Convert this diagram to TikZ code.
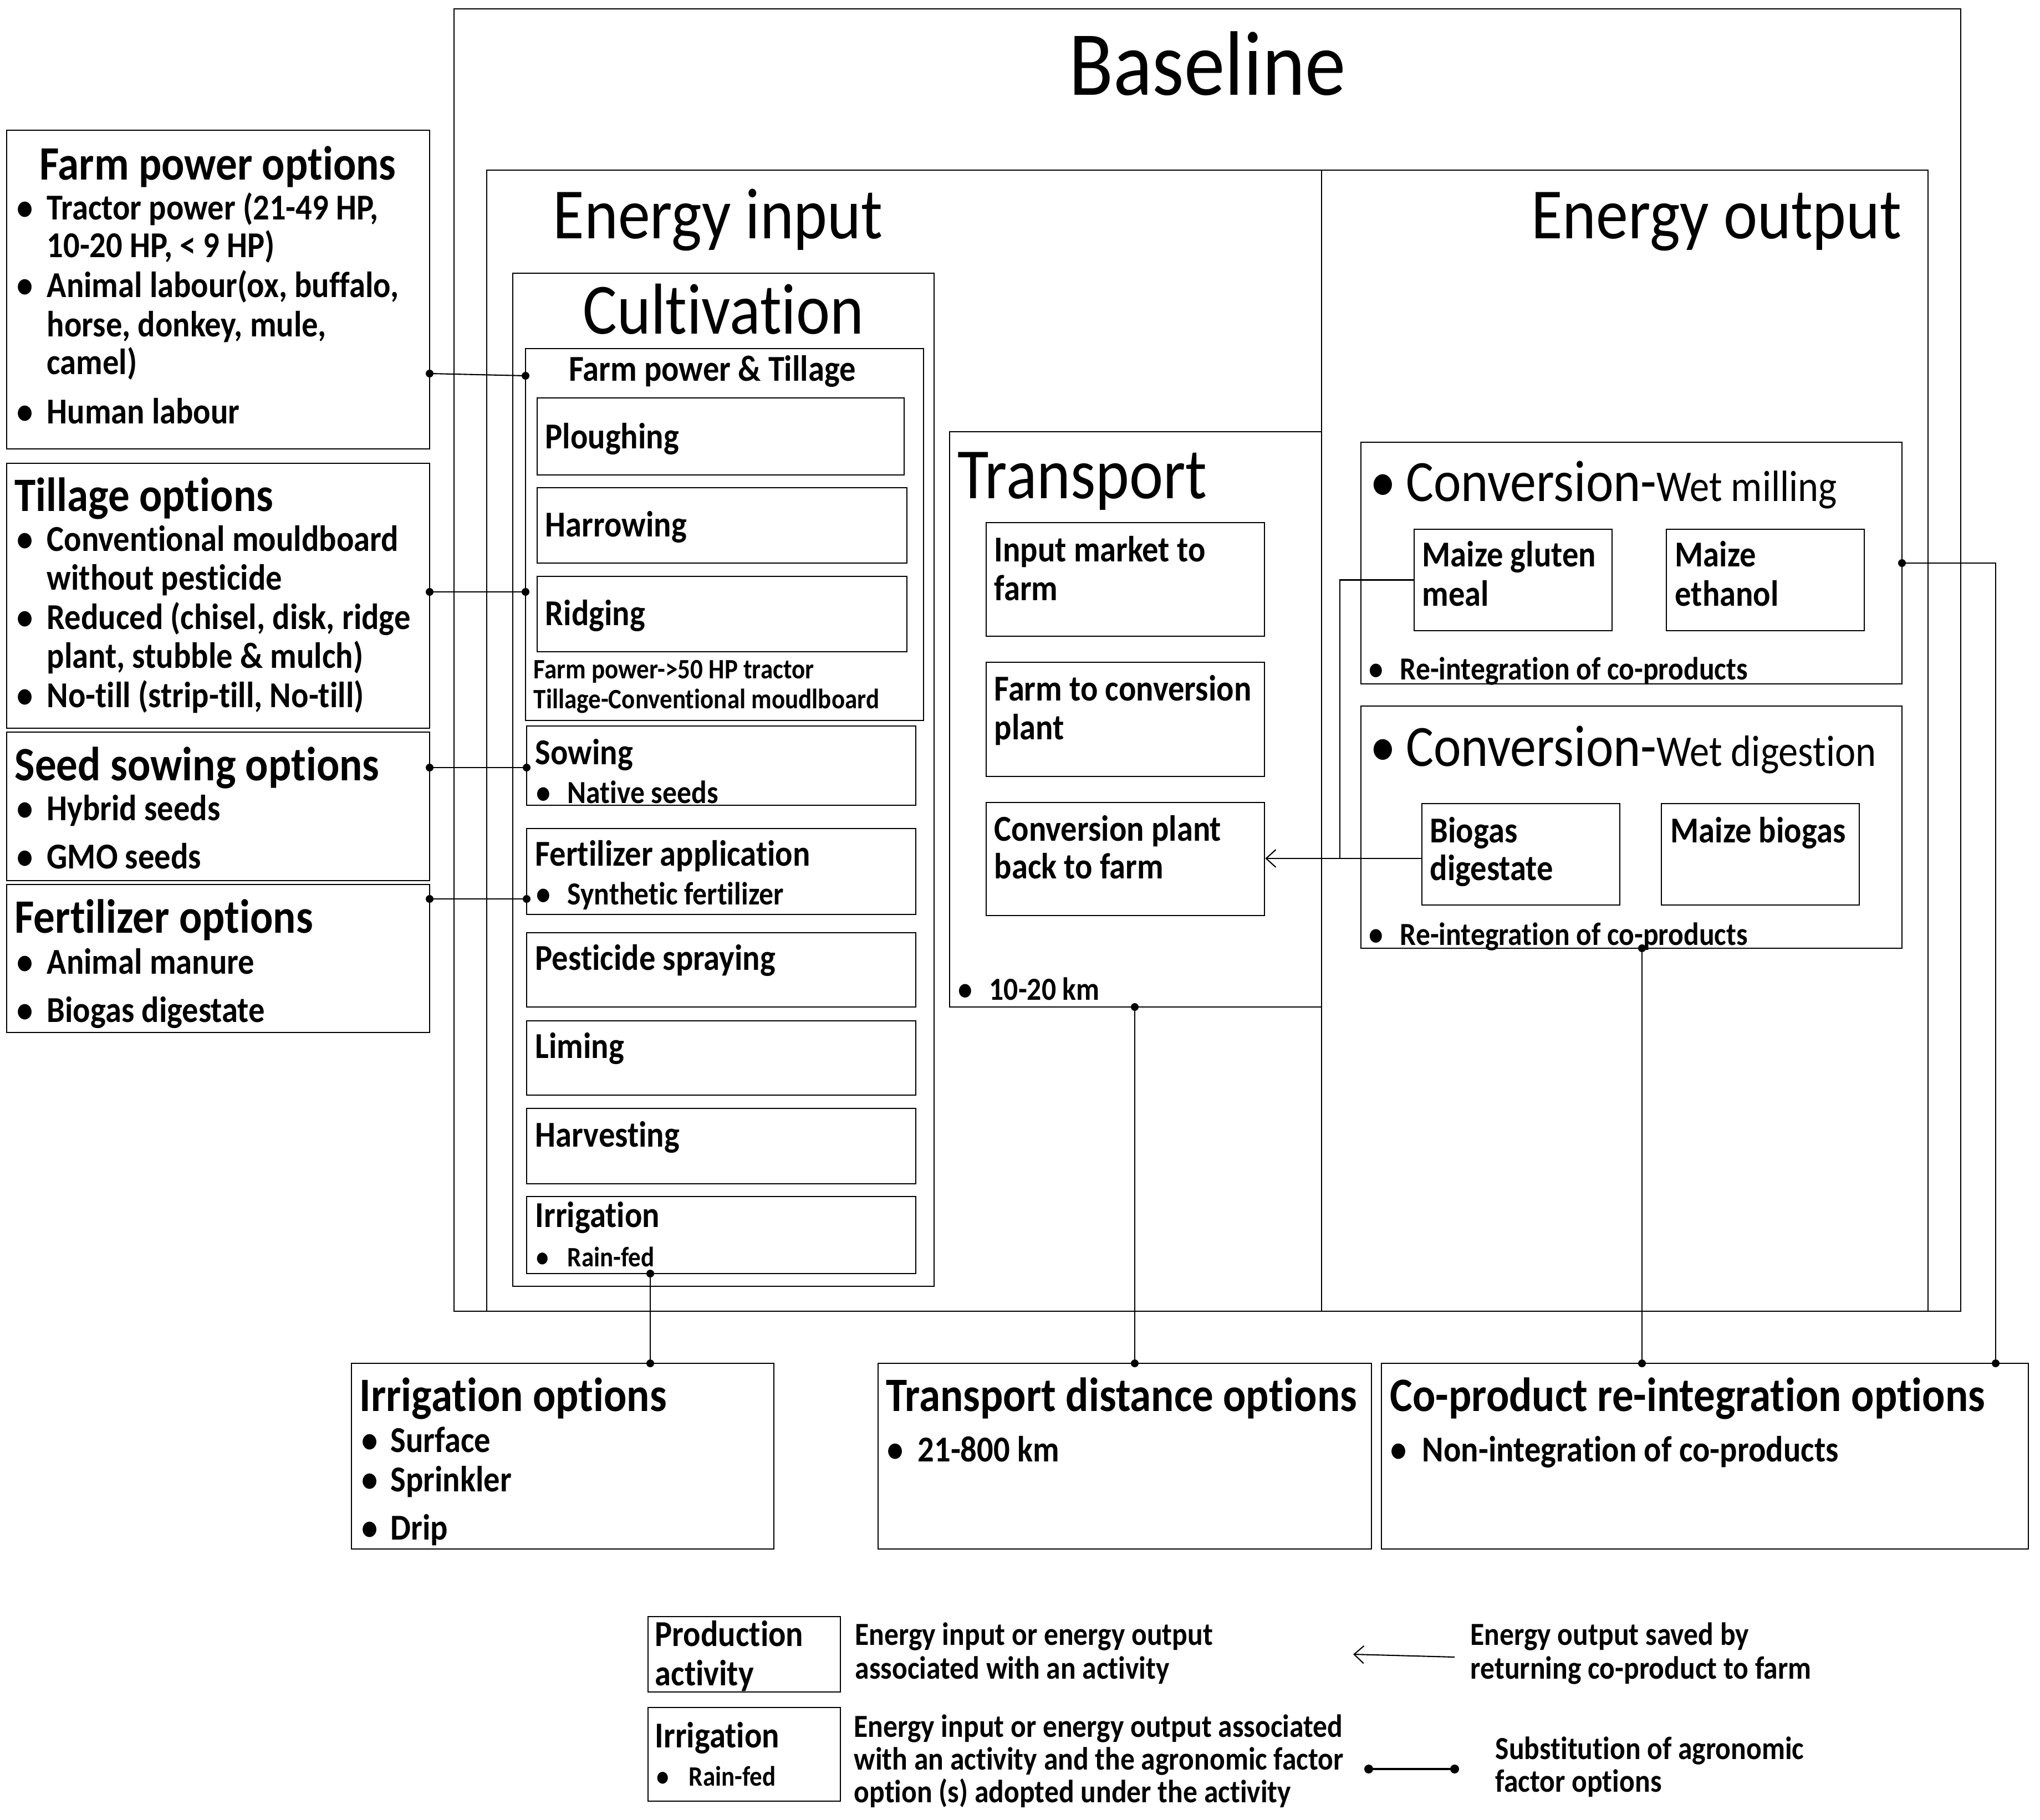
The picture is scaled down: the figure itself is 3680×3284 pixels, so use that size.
\documentclass[tikz,border=0pt]{standalone}
\usepackage{fontspec}
\setmainfont{Carlito}[FakeStretch=0.89, Ligatures=NoCommon]
\usetikzlibrary{fit,arrows.meta}
\newcommand\Bx[5]{\node[bx, fit={(#2,#3) (#4,#5)}] (#1) {};}
\begin{document}
\begin{tikzpicture}[x=0.01cm,y=-0.01cm,
 bx/.style={draw, line width=0.75pt, inner sep=0pt},
 fT/.style={font=\fontsize{47}{50}\selectfont, inner sep=0pt, anchor=base},
 fS/.style={font=\fontsize{37}{40}\selectfont, inner sep=0pt, anchor=base west},
 fO/.style={font=\fontsize{24.6}{27}\selectfont\bfseries, inner sep=0pt, anchor=mid west, yshift=-5.6pt},
 fB/.style={font=\fontsize{18.7}{20}\selectfont\bfseries, inner sep=0pt, anchor=mid west, yshift=-3.4pt},
 fM/.style={font=\fontsize{16.5}{18}\selectfont\bfseries, inner sep=0pt, anchor=mid west, yshift=-3.4pt},
 fX/.style={font=\fontsize{14.4}{16}\selectfont\bfseries, inner sep=0pt, anchor=mid west, yshift=-2.8pt},
 cn/.style={line width=0.6pt},
 arr/.style={line width=0.6pt, -{Straight Barb[length=5pt,width=9pt]}},
]
\useasboundingbox (0,0) rectangle (3680,3284);
% ---------- main frames ----------
\Bx{base}{819}{16}{3537}{2366}
\Bx{energy}{878}{307}{3478}{2366}
\draw[line width=0.75pt] (2384,307) -- (2384,2366);
\node[fT] (tBase) at (2178,171) {Baseline};
\node[fS] (tEin) at (997,430) {Energy input};
\node[fS, anchor=base east] (tEout) at (3431,430) {Energy output};
% ---------- cultivation ----------
\Bx{cult}{925}{493}{1685}{2321}
\node[fS, anchor=base] (tCult) at (1305,602) {Cultivation};
\Bx{fpt}{948}{629}{1666}{1300}
\node[fB, anchor=mid] (tFpt) at (1285,667) {Farm power \& Tillage};
\Bx{plo}{969}{718}{1631}{857}
\node[fB] (tPlo) at (983,789) {Ploughing};
\Bx{har}{969}{880}{1636}{1016}
\node[fB] (tHar) at (983,948) {Harrowing};
\Bx{rid}{969}{1040}{1636}{1176}
\node[fB] (tRid) at (983,1108) {Ridging};
\node[fX] (tFp50) at (962,1206) {Farm power->50 HP tractor};
\node[fX] (tTcm) at (962,1260) {Tillage-Conventional moudlboard};
\Bx{sow}{950}{1310}{1652}{1453}
\node[fB] (tSow) at (965,1359) {Sowing};
\node[fM] (bSow) at (967,1429) {•};
\node[fM] (tSowN) at (1023,1429) {Native seeds};
\Bx{fer}{950}{1495}{1652}{1650}
\node[fB] (tFer) at (965,1542) {Fertilizer application};
\node[fM] (bFer) at (967,1612) {•};
\node[fM] (tFerS) at (1023,1612) {Synthetic fertilizer};
\Bx{pes}{950}{1683}{1652}{1817}
\node[fB] (tPes) at (965,1730) {Pesticide spraying};
\Bx{lim}{950}{1842}{1652}{1976}
\node[fB] (tLim) at (965,1889) {Liming};
\Bx{hrv}{950}{2000}{1652}{2136}
\node[fB] (tHrv) at (965,2049) {Harvesting};
\Bx{irr}{950}{2159}{1652}{2298}
\node[fB] (tIrr) at (965,2194) {Irrigation};
\node[fX] (bIrr) at (967,2267) {•};
\node[fX] (tIrrR) at (1023,2267) {Rain-fed};
% ---------- transport ----------
\Bx{trn}{1713}{779}{2384}{1817}
\node[fS] (tTrn) at (1727,899) {Transport};
\Bx{imf}{1779}{943}{2281}{1148}
\node[fB] (tImf1) at (1793,993) {Input market to};
\node[fB] (tImf2) at (1793,1063) {farm};
\Bx{fcp}{1779}{1195}{2281}{1401}
\node[fB] (tFcp1) at (1793,1244) {Farm to conversion};
\node[fB] (tFcp2) at (1793,1314) {plant};
\Bx{cpb}{1779}{1448}{2281}{1652}
\node[fB] (tCpb1) at (1793,1497) {Conversion plant};
\node[fB] (tCpb2) at (1793,1565) {back to farm};
\node[fM] (bKm) at (1728,1784) {•};
\node[fM] (tKm) at (1784,1784) {10-20 km};
% ---------- energy output ----------
\Bx{cwm}{2455}{798}{3431}{1234}
\node[inner sep=0pt, anchor=base west] (tCwm) at (2471,904) {\fontsize{30}{32}\selectfont •\hspace{5pt}Conversion-\fontsize{22.5}{24}\selectfont Wet milling};
\Bx{mgm}{2551}{955}{2908}{1138}
\node[fB] (tMgm1) at (2565,1002) {Maize gluten};
\node[fB] (tMgm2) at (2565,1073) {meal};
\Bx{met}{3006}{955}{3363}{1138}
\node[fB] (tMet1) at (3021,1002) {Maize};
\node[fB] (tMet2) at (3021,1073) {ethanol};
\node[fM] (bRe1) at (2469,1206) {•};
\node[fM] (tRe1) at (2525,1206) {Re-integration of co-products};
\Bx{cwd}{2455}{1274}{3431}{1711}
\node[inner sep=0pt, anchor=base west] (tCwd) at (2471,1382) {\fontsize{30}{32}\selectfont •\hspace{5pt}Conversion-\fontsize{22.5}{24}\selectfont Wet digestion};
\Bx{bdg}{2565}{1450}{2922}{1633}
\node[fB] (tBdg1) at (2579,1500) {Biogas};
\node[fB] (tBdg2) at (2579,1568) {digestate};
\Bx{mbg}{2997}{1450}{3354}{1633}
\node[fB] (tMbg) at (3013,1500) {Maize biogas};
\node[fM] (bRe2) at (2469,1685) {•};
\node[fM] (tRe2) at (2525,1685) {Re-integration of co-products};
% ---------- left option boxes ----------
\Bx{fpo}{12}{235}{775}{810}
\node[fO, anchor=mid] (tFpo) at (393,296) {Farm power options};
\node[fB] (bF1) at (30,376) {•};
\node[fB] (tF1) at (84,376) {Tractor power (21-49 HP,};
\node[fB] (tF2) at (84,444) {10-20 HP, < 9 HP)};
\node[fB] (bF3) at (30,516) {•};
\node[fB] (tF3) at (84,516) {Animal labour(ox, buffalo,};
\node[fB] (tF4) at (84,587) {horse, donkey, mule,};
\node[fB] (tF5) at (84,655) {camel)};
\node[fB] (bF6) at (30,744) {•};
\node[fB] (tF6) at (84,744) {Human labour};
\Bx{tio}{12}{836}{775}{1314}
\node[fO] (tTio) at (26,894) {Tillage options};
\node[fB] (bT1) at (30,974) {•};
\node[fB] (tT1) at (84,974) {Conventional mouldboard};
\node[fB] (tT2) at (84,1044) {without pesticide};
\node[fB] (bT3) at (30,1115) {•};
\node[fB] (tT3) at (84,1115) {Reduced (chisel, disk, ridge};
\node[fB] (tT4) at (84,1185) {plant, stubble \& mulch)};
\node[fB] (bT5) at (30,1256) {•};
\node[fB] (tT5) at (84,1256) {No-till (strip-till, No-till)};
\Bx{sso}{12}{1321}{775}{1589}
\node[fO] (tSso) at (26,1380) {Seed sowing options};
\node[fB] (bS1) at (30,1460) {•};
\node[fB] (tS1) at (84,1460) {Hybrid seeds};
\node[fB] (bS2) at (30,1547) {•};
\node[fB] (tS2) at (84,1547) {GMO seeds};
\Bx{feo}{12}{1596}{775}{1863}
\node[fO] (tFeo) at (26,1655) {Fertilizer options};
\node[fB] (bE1) at (30,1737) {•};
\node[fB] (tE1) at (84,1737) {Animal manure};
\node[fB] (bE2) at (30,1824) {•};
\node[fB] (tE2) at (84,1824) {Biogas digestate};
% ---------- bottom option boxes ----------
\Bx{iro}{634}{2460}{1396}{2795}
\node[fO] (tIro) at (648,2518) {Irrigation options};
\node[fB] (bI1) at (652,2600) {•};
\node[fB] (tI1) at (704,2600) {Surface};
\node[fB] (bI2) at (652,2671) {•};
\node[fB] (tI2) at (704,2671) {Sprinkler};
\node[fB] (bI3) at (652,2758) {•};
\node[fB] (tI3) at (704,2758) {Drip};
\Bx{tdo}{1584}{2460}{2474}{2795}
\node[fO] (tTdo) at (1598,2518) {Transport distance options};
\node[fB] (bD1) at (1600,2617) {•};
\node[fB] (tD1) at (1655,2617) {21-800 km};
\Bx{cro}{2492}{2460}{3659}{2795}
\node[fO] (tCro) at (2507,2518) {Co-product re-integration options};
\node[fB] (bC1) at (2508,2617) {•};
\node[fB] (tC1) at (2565,2617) {Non-integration of co-products};
% ---------- connectors ----------
\coordinate (cF1) at (775,674);  \coordinate (cF2) at (948,678);
\coordinate (cT1) at (775,1068); \coordinate (cT2) at (948,1068);
\coordinate (cS1) at (775,1385); \coordinate (cS2) at (950,1385);
\coordinate (cE1) at (775,1622); \coordinate (cE2) at (950,1622);
\coordinate (cI1) at (1173,2298); \coordinate (cI2) at (1173,2460);
\coordinate (cR1) at (2047,1817); \coordinate (cR2) at (2047,2460);
\coordinate (cW1) at (2962,1711); \coordinate (cW2) at (2962,2460);
\coordinate (cM1) at (3431,1016); \coordinate (cM2) at (3600,2460);
\coordinate (cJ) at (2417,1549);
\draw[cn] (cF1) -- (cF2);
\draw[cn] (cT1) -- (cT2);
\draw[cn] (cS1) -- (cS2);
\draw[cn] (cE1) -- (cE2);
\draw[cn] (cI1) -- (cI2);
\draw[cn] (cR1) -- (cR2);
\draw[cn] (cW1) -- (cW2);
\draw[cn] (cM1) -| (cM2);
\draw[cn] (mgm.west) -| (cJ);
\draw[arr] (bdg.west |- cJ) -- (cpb.east |- cJ);
\foreach \c in {cF1,cF2,cT1,cT2,cS1,cS2,cE1,cE2,cI1,cI2,cR1,cR2,cW1,cW2,cM1,cM2}
  \fill (\c) circle (7);
% ---------- legend ----------
\Bx{lpa}{1169}{2917}{1516}{3053}
\node[fB] (tLpa1) at (1181,2950) {Production};
\node[fB] (tLpa2) at (1181,3021) {activity};
\Bx{lir}{1169}{3081}{1516}{3250}
\node[fB] (tLir) at (1181,3133) {Irrigation};
\node[fX] (bLir) at (1184,3204) {•};
\node[fX] (tLirR) at (1242,3204) {Rain-fed};
\node[fM] (tL1a) at (1542,2948) {Energy input or energy output};
\node[fM] (tL1b) at (1542,3009) {associated with an activity};
\coordinate (lA1) at (2624,2990); \coordinate (lA2) at (2441,2985);
\draw[arr] (lA1) -- (lA2);
\node[fM] (tL2a) at (2652,2948) {Energy output saved by};
\node[fM] (tL2b) at (2652,3009) {returning co-product to farm};
\node[fM] (tL3a) at (1540,3114) {Energy input or energy output associated};
\node[fM] (tL3b) at (1540,3173) {with an activity and the agronomic factor};
\node[fM] (tL3c) at (1540,3232) {option (s) adopted under the activity};
\coordinate (lD1) at (2469,3192); \coordinate (lD2) at (2624,3192);
\draw[line width=1pt] (lD1) -- (lD2);
\fill (lD1) circle (8); \fill (lD2) circle (8);
\node[fM] (tL4a) at (2697,3154) {Substitution of agronomic};
\node[fM] (tL4b) at (2697,3213) {factor options};
\end{tikzpicture}
\end{document}
